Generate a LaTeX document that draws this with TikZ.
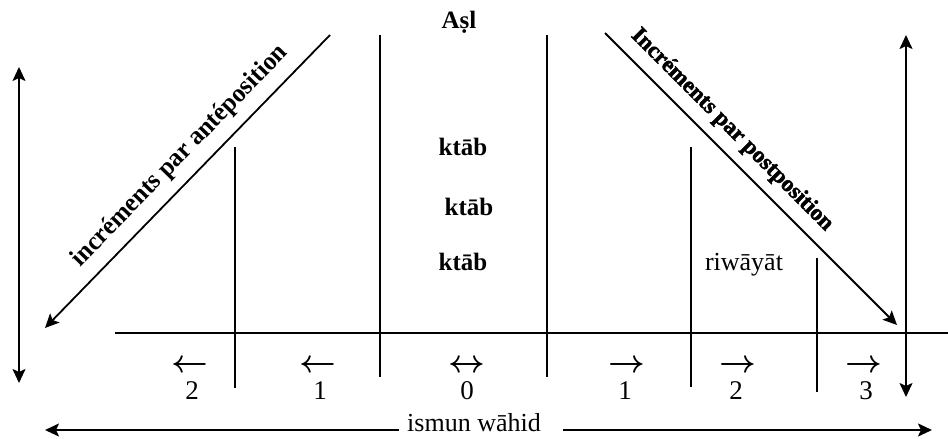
\RequirePackage{fix-cm}
\documentclass[tikz,border=0pt]{standalone}
\usepackage{fontspec}
\setmainfont{Liberation Serif}
\newfontfamily\blackfont{Liberation Serif Bold}[FakeBold=2]
\usetikzlibrary{arrows.meta}
\begin{document}
\begin{tikzpicture}[x=1pt,y=-1pt,
  ln/.style={line width=1.8pt},
  hln/.style={line width=2.4pt},
  tip/.style={-{Stealth[length=14pt,width=13pt,inset=3pt]}},
  arr/.style={line width=1.8pt,tip},
  darr/.style={line width=1.8pt,{Stealth[length=14pt,width=13pt,inset=3pt]}-{Stealth[length=14pt,width=13pt,inset=3pt]}},
  lbl/.style={font=\fontsize{26}{30}\selectfont, inner sep=0pt},
  blbl/.style={font=\bfseries\fontsize{25}{30}\selectfont, inner sep=0pt},
  num/.style={font=\fontsize{27}{30}\selectfont, inner sep=0pt},
  sgn/.style={font=\fontsize{32}{32}\selectfont\boldmath, inner sep=0pt},
  diag/.style={font=\bfseries\fontsize{26}{28}\selectfont, inner sep=0pt}]
\useasboundingbox (0,0) rectangle (948,439);

% horizontal axis
\coordinate (hL) at (115,333);
\coordinate (hR) at (948,333);
\draw[hln] (hL) -- (hR);

% vertical separators
\coordinate (v1t) at (235,147); \coordinate (v1b) at (235,388);
\coordinate (v2t) at (380,35);  \coordinate (v2b) at (380,377);
\coordinate (v3t) at (547,35);  \coordinate (v3b) at (547,377);
\coordinate (v4t) at (691,147); \coordinate (v4b) at (691,387);
\coordinate (v5t) at (817,258); \coordinate (v5b) at (817,392);
\draw[ln] (v1t) -- (v1b);
\draw[ln] (v2t) -- (v2b);
\draw[ln] (v3t) -- (v3b);
\draw[ln] (v4t) -- (v4b);
\draw[ln] (v5t) -- (v5b);

% vertical double arrows
\coordinate (la) at (19,67);  \coordinate (lb) at (19,383);
\coordinate (ra) at (906,35); \coordinate (rb) at (906,397);
\draw[darr] (la) -- (lb);
\draw[darr] (ra) -- (rb);

% diagonals
\coordinate (dLt) at (330,35); \coordinate (dLb) at (45,328);
\coordinate (dRt) at (605,33); \coordinate (dRb) at (897,325);
\draw[arr] (dLt) -- (dLb);
\draw[arr] (dRt) -- (dRb);
\node[diag, rotate=45.8, xscale=0.96] (ante) at (180,156) {incréments par antéposition};
\node[rotate=-45, inner sep=0pt, font=\blackfont\fontsize{23}{26}\selectfont] (post) at (732,130) {Incréments par postposition};

% labels
\node[blbl] (asl) at (459,22) {Aṣl};
\node[blbl] (k1) at (463,147) {ktāb};
\node[blbl] (k2) at (469,207) {ktāb};
\node[blbl] (k3) at (463,262) {ktāb};
\node[lbl] (riw) at (744,265) {riwāyāt};

% bottom numbers with direction arrows
\node[num] (n1) at (192,391) {2};
\node[num] (n2) at (320,391) {1};
\node[num] (n3) at (467,391) {0};
\node[num] (n4) at (625,391) {1};
\node[num] (n5) at (736,391) {2};
\node[num] (n6) at (866,391) {3};
\node[sgn] (s1) at (190,366) {$\leftarrow$};
\node[sgn] (s2) at (318,366) {$\leftarrow$};
\node[sgn] (s3) at (467,366) {$\leftrightarrow$};
\node[sgn] (s4) at (627,366) {$\rightarrow$};
\node[sgn] (s5) at (738,366) {$\rightarrow$};
\node[sgn] (s6) at (864,366) {$\rightarrow$};

% bottom label and arrows
\node[lbl] (ism) at (474,423) {ismun wāhid};
\coordinate (bl) at (45,430);
\coordinate (br) at (932,430);
\draw[arr] (ism.west) ++(-8,7) coordinate (bls) -- (bl);
\draw[arr] (ism.east) ++(22,7) coordinate (brs) -- (br);
\end{tikzpicture}
\end{document}
